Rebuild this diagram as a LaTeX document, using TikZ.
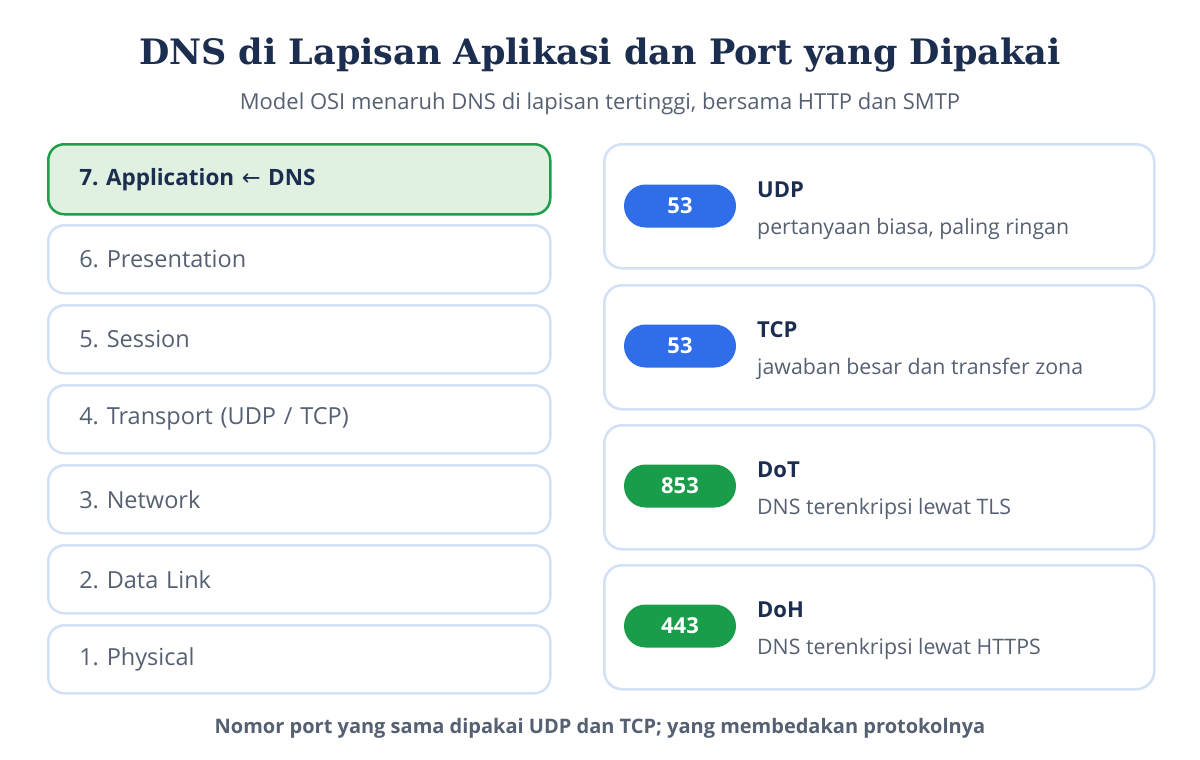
\documentclass[tikz,border=0pt]{standalone}
\usepackage{fontspec}
\setmainfont{Open Sans}
\newfontfamily\titlefont{DejaVu Serif}
\newfontfamily\symfont{DejaVu Sans}
\usetikzlibrary{shapes.misc,positioning,calc}
\definecolor{navy}{HTML}{1B2E4F}
\definecolor{graytext}{HTML}{556072}
\definecolor{lineblue}{HTML}{D3E1F6}
\definecolor{greenline}{HTML}{1F9D4A}
\definecolor{greenfill}{HTML}{E0F1E2}
\definecolor{pillblue}{HTML}{2F6DE9}
\definecolor{pillgreen}{HTML}{1A9D4B}
\frenchspacing
\tikzset{
  layerbox/.style={draw=lineblue, line width=2.5pt, fill=white, rounded corners=16pt,
    minimum width=502pt, minimum height=68pt, text width=440pt, inner xsep=31pt,
    align=left, anchor=north west, text=graytext,
    font=\fontsize{23.5}{28}\selectfont},
  appbox/.style={layerbox, draw=greenline, fill=greenfill, minimum height=70pt, text=navy,
    font=\bfseries\fontsize{22.5}{28}\selectfont},
  card/.style={draw=lineblue, line width=2.5pt, fill=white, rounded corners=18pt,
    minimum width=550pt, minimum height=124pt, anchor=north west},
  pill/.style={rounded rectangle, minimum width=112pt, minimum height=43pt, inner sep=0pt,
    text=white, font=\bfseries\fontsize{22}{26}\selectfont},
  ctitle/.style={anchor=base west, inner sep=0pt, text=navy, font=\bfseries\fontsize{22}{26}\selectfont},
  cdesc/.style={anchor=base west, inner sep=0pt, text=graytext, font=\fontsize{21.3}{26}\selectfont},
}
\begin{document}
\begin{tikzpicture}[x=1pt,y=-1pt]
\useasboundingbox (0,0) rectangle (1200,760);
\fill[white] (0,0) rectangle (1200,760);
\node[text=navy, font=\titlefont\bfseries\fontsize{35}{42}\selectfont] (title) at (600,55)
  {DNS di Lapisan Aplikasi dan Port yang Dipakai};
\node[text=graytext, font=\fontsize{22}{26}\selectfont] (subtitle) at (600,104)
  {Model OSI menaruh DNS di lapisan tertinggi, bersama HTTP dan SMTP};

\node[appbox] (l7) at (47,143) {7. Application {\symfont\mdseries ←} DNS};
\node[layerbox] (l6) at (47,224) {6. Presentation};
\node[layerbox] (l5) at (47,304) {5. Session};
\node[layerbox] (l4) at (47,384) {4. Transport (UDP / TCP)};
\node[layerbox] (l3) at (47,464) {3. Network};
\node[layerbox] (l2) at (47,544) {2. Data Link};
\node[layerbox] (l1) at (47,624) {1. Physical};

\node[card] (c1) at (603,143) {};
\node[card] (c2) at (603,284) {};
\node[card] (c3) at (603,424) {};
\node[card] (c4) at (603,564) {};

\node[pill, fill=pillblue] (p1) at (680,206) {53};
\node[pill, fill=pillblue] (p2) at (680,346) {53};
\node[pill, fill=pillgreen] (p3) at (680,486) {853};
\node[pill, fill=pillgreen] (p4) at (680,626) {443};

\node[ctitle] (t1) at (757,197) {UDP};
\node[cdesc] (d1) at (757,234) {pertanyaan biasa, paling ringan};
\node[ctitle] (t2) at (757,337) {TCP};
\node[cdesc] (d2) at (757,374) {jawaban besar dan transfer zona};
\node[ctitle] (t3) at (757,477) {DoT};
\node[cdesc] (d3) at (757,514) {DNS terenkripsi lewat TLS};
\node[ctitle] (t4) at (757,617) {DoH};
\node[cdesc] (d4) at (757,654) {DNS terenkripsi lewat HTTPS};

\node[text=graytext, font=\bfseries\fontsize{20}{24}\selectfont] (footer) at (600,728)
  {Nomor port yang sama dipakai UDP dan TCP; yang membedakan protokolnya};
\end{tikzpicture}
\end{document}
